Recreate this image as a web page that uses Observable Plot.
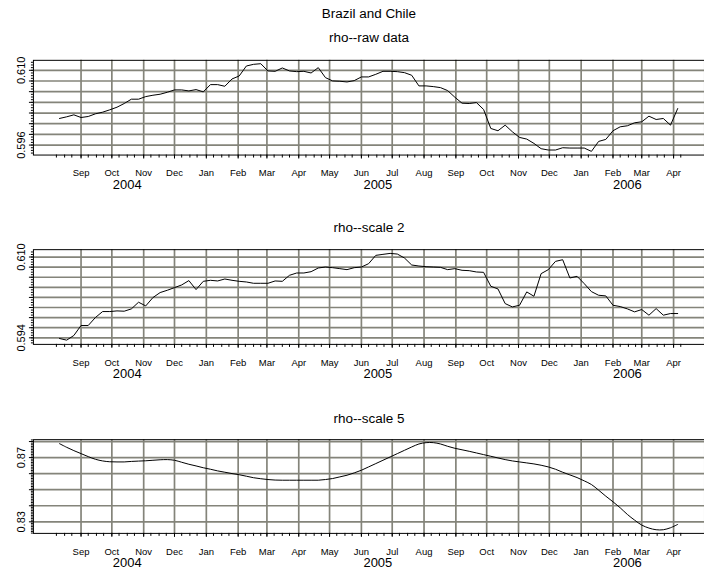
<!DOCTYPE html>
<html><head><meta charset="utf-8">
<script src="https://cdn.jsdelivr.net/npm/d3@7"></script>
<script src="https://cdn.jsdelivr.net/npm/@observablehq/plot@0.6"></script>
<style>
body{margin:0;background:#fff;}
#chart{position:relative;width:704px;height:575px;overflow:hidden;background:#fff;}
#chart svg{position:absolute;left:0;}
</style></head><body><div id="chart"></div>
<script>
const mainTitle = "Brazil and Chile";
const panelTitles = ["rho--raw data", "rho--scale 2", "rho--scale 5"];
const firstWeek = "2004-08-11";   // weekly observations
const rawData = [
0.60098,0.60129,0.60166,0.60116,0.60135,0.60185,0.60216,0.60260,0.60309,0.60378,
0.60459,0.60459,0.60508,0.60533,0.60552,0.60589,0.60633,0.60633,0.60614,0.60639,
0.60596,0.60732,0.60732,0.60701,0.60838,0.60894,0.61081,0.61112,0.61124,0.60988,
0.60981,0.61044,0.60988,0.60975,0.60981,0.60950,0.61050,0.60863,0.60801,0.60795,
0.60782,0.60807,0.60876,0.60876,0.60925,0.60981,0.60981,0.60975,0.60956,0.60907,
0.60708,0.60708,0.60695,0.60676,0.60620,0.60496,0.60384,0.60378,0.60396,0.60266,
0.59911,0.59868,0.59973,0.59849,0.59743,0.59712,0.59631,0.59532,0.59507,0.59507,
0.59550,0.59544,0.59544,0.59544,0.59482,0.59668,0.59706,0.59868,0.59942,0.59961,
0.60017,0.60036,0.60141,0.60079,0.60098,0.59973,0.60284];
const scale2Data = [
0.59387,0.59354,0.59446,0.59644,0.59644,0.59802,0.59920,0.59920,0.59933,0.59927,
0.59973,0.60105,0.60032,0.60197,0.60296,0.60342,0.60394,0.60447,0.60533,0.60355,
0.60519,0.60539,0.60526,0.60565,0.60539,0.60519,0.60506,0.60480,0.60480,0.60480,
0.60526,0.60519,0.60638,0.60684,0.60684,0.60710,0.60783,0.60802,0.60789,0.60770,
0.60750,0.60789,0.60802,0.60868,0.61033,0.61053,0.61072,0.61059,0.60980,0.60842,
0.60822,0.60809,0.60802,0.60796,0.60750,0.60770,0.60737,0.60730,0.60704,0.60697,
0.60421,0.60368,0.60078,0.60012,0.60045,0.60309,0.60223,0.60671,0.60750,0.60914,
0.60947,0.60585,0.60618,0.60473,0.60315,0.60243,0.60230,0.60045,0.60019,0.59973,
0.59914,0.59960,0.59848,0.59979,0.59848,0.59881,0.59881];
const scale5Data = [
0.87870,0.87642,0.87435,0.87248,0.87062,0.86896,0.86793,0.86741,0.86731,0.86731,
0.86762,0.86783,0.86803,0.86834,0.86865,0.86876,0.86834,0.86710,0.86586,0.86482,
0.86369,0.86275,0.86172,0.86089,0.86006,0.85934,0.85841,0.85747,0.85685,0.85634,
0.85602,0.85592,0.85592,0.85592,0.85592,0.85592,0.85592,0.85634,0.85696,0.85799,
0.85903,0.86048,0.86213,0.86420,0.86627,0.86834,0.87041,0.87248,0.87456,0.87663,
0.87849,0.87932,0.87932,0.87849,0.87704,0.87580,0.87487,0.87393,0.87290,0.87186,
0.87083,0.86979,0.86876,0.86793,0.86731,0.86669,0.86607,0.86524,0.86420,0.86275,
0.86089,0.85923,0.85758,0.85551,0.85323,0.84971,0.84598,0.84246,0.83874,0.83460,
0.83108,0.82797,0.82611,0.82507,0.82507,0.82631,0.82838];
const yTickLabels1 = [0.596, 0.610];
const yTickLabels2 = [0.594, 0.610];
const yTickLabels3 = [0.83, 0.87];
const yGrid1 = [0.596,0.598,0.600,0.602,0.604,0.606,0.608,0.610];
const yGrid2 = [0.594,0.596,0.598,0.600,0.602,0.604,0.606,0.608,0.610];
const yGrid3 = [0.83,0.84,0.85,0.86,0.87,0.88];
const yearLabels = ["2004", "2005", "2006"];
const yearAnchors = ["2004-10-16", "2005-06-17", "2006-02-15"];
const monthRange = ["2004-09-01", "2006-04-01"];
const subTickDays = [1, 8, 16, 23];
const subTickRange = ["2004-08-08", "2006-04-08"];

const dates = rawData.map((_, i) => d3.utcDay.offset(new Date(firstWeek), 7 * i));
const monthStarts = d3.utcMonth.range(new Date(monthRange[0]), d3.utcDay.offset(new Date(monthRange[1]), 1));
const subTicks = [];
for (const m of d3.utcMonth.range(new Date("2004-08-01"), new Date("2006-05-01"))) {
  for (const d of subTickDays) {
    const t = d3.utcDay.offset(m, d - 1);
    if (t >= new Date(subTickRange[0]) && t <= new Date(subTickRange[1])) subTicks.push(t);
  }
}
const years = yearLabels.map((y, i) => ({y, date: new Date(yearAnchors[i])}));
const xDomain = [new Date("2004-07-16T15:00Z"), new Date("2006-05-01T02:00Z")];
const gridColor = "#84847a";
const fmtMonth = d3.utcFormat("%b");
const font = "Arial, 'Liberation Sans', sans-serif";

function panel(o) {
  const data = dates.map((d, i) => ({date: d, v: o.values[i]}));
  const minor = d3.range(Math.ceil(o.domain[0] / o.minorStep - 1e-9), Math.floor(o.domain[1] / o.minorStep + 1e-9) + 1).map(i => +(i * o.minorStep).toFixed(6));
  const marks = [
    Plot.ruleY(o.grid, {y: d => d, stroke: gridColor, strokeWidth: 1.7}),
    Plot.ruleX(monthStarts, {x: d => d, stroke: gridColor, strokeWidth: 1.7}),
    Plot.frame({stroke: "#000", strokeWidth: 1}),
    Plot.axisX({ticks: subTicks, tickSize: 3, tickFormat: () => "", label: null}),
    Plot.axisX({ticks: monthStarts, tickSize: 4, tickFormat: () => "", label: null}),
    Plot.axisY({ticks: minor, tickSize: 2, tickFormat: () => "", label: null}),
    Plot.axisY({ticks: o.grid, tickSize: 4, tickFormat: () => "", label: null}),
    Plot.text(monthStarts, {x: d => d, text: d => fmtMonth(d), frameAnchor: "bottom", dy: 21.5, lineAnchor: "bottom", fontSize: 9.5}),
    Plot.text(years, {x: "date", text: "y", frameAnchor: "bottom", dy: 34, lineAnchor: "bottom", fontSize: 13}),
    Plot.text(o.labels, {y: d => d, text: d => o.fmt(d), frameAnchor: "left", dx: -8, rotate: -90, textAnchor: "middle", lineAnchor: "bottom", fontSize: 11}),
    Plot.text([o.title], {text: d => d, frameAnchor: "top", dy: -o.titleDy, lineAnchor: "bottom", fontSize: 13.5}),
    Plot.line(data, {x: "date", y: "v", stroke: "#000", strokeWidth: 1, curve: o.curve})
  ];
  if (o.main) marks.push(Plot.text([o.main], {text: d => d, frameAnchor: "top", dy: -42.5, lineAnchor: "bottom", fontSize: 13.5}));
  const svg = Plot.plot({
    width: 706, height: o.height,
    marginLeft: 33, marginRight: 0, marginTop: o.mTop, marginBottom: o.mBottom,
    style: {fontFamily: font, fontSize: "10px", background: "transparent", color: "#000"},
    x: {type: "utc", domain: xDomain, axis: null, label: null},
    y: {domain: o.domain, axis: null, label: null},
    marks
  });
  svg.style.top = o.top + "px";
  document.getElementById("chart").appendChild(svg);
}

panel({values: rawData, domain: [0.59413, 0.61187], grid: yGrid1, labels: yTickLabels1, fmt: d3.format(".3f"),
  minorStep: 0.0005, title: panelTitles[0], titleDy: 18.3, top: 0, height: 200, mTop: 60, mBottom: 45,
  curve: "linear", main: mainTitle});
panel({values: scale2Data, domain: [0.59270, 0.61146], grid: yGrid2, labels: yTickLabels2, fmt: d3.format(".3f"),
  minorStep: 0.0005, title: panelTitles[1], titleDy: 17.6, top: 200, height: 190, mTop: 49.3, mBottom: 45.7,
  curve: "linear"});
panel({values: scale5Data, domain: [0.82280, 0.88118], grid: yGrid3, labels: yTickLabels3, fmt: d3.format(".2f"),
  minorStep: 0.001, title: panelTitles[2], titleDy: 16.3, top: 390, height: 185, mTop: 49.3, mBottom: 41.7,
  curve: "catmull-rom"});
</script></body></html>
